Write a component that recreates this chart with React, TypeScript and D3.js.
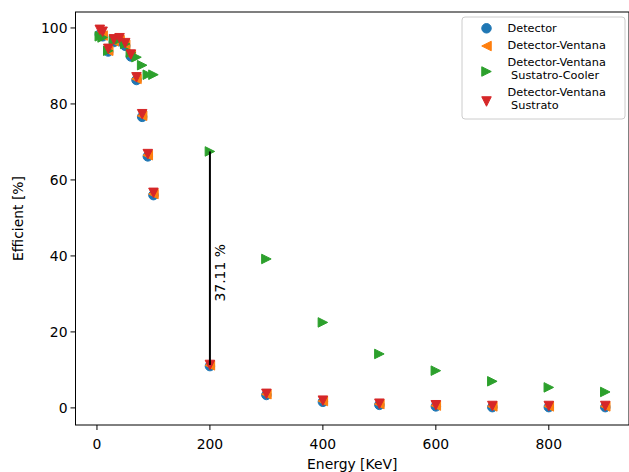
import React from "react";
import * as d3 from "d3";

const energies = [5, 10, 20, 30, 40, 50, 60, 70, 80, 90, 100, 200, 300, 400, 500, 600, 700, 800, 900];
const detector = [98.3, 97.8, 93.8, 96.3, 96.5, 95.3, 92.5, 86.3, 76.6, 66.2, 56.0, 11.0, 3.4, 1.6, 0.8, 0.4, 0.2, 0.2, 0.2];
const ventana = [98.6, 98.0, 94.0, 96.5, 96.8, 95.6, 92.8, 86.6, 76.9, 66.5, 56.3, 11.2, 3.6, 1.8, 1.0, 0.6, 0.4, 0.4, 0.4];
const cooler = [97.8, 97.5, 94.0, 96.8, 97.0, 95.8, 93.5, 92.3, 90.2, 87.7, 87.7, 67.5, 39.2, 22.5, 14.2, 9.8, 7.0, 5.4, 4.2];
const sustrato = [99.5, 99.0, 94.5, 97.0, 97.3, 96.0, 93.0, 87.0, 77.3, 66.8, 56.6, 11.3, 3.7, 1.9, 1.1, 0.7, 0.5, 0.5, 0.5];

const xTicks = [0, 200, 400, 600, 800];
const yTicks = [0, 20, 40, 60, 80, 100];

const seriesNames = ["Detector", "Detector-Ventana", "Detector-Ventana\n Sustatro-Cooler", "Detector-Ventana\n Sustrato"];
const seriesColors = ["#1f77b4", "#ff7f0e", "#2ca02c", "#d62728"];
const seriesMarkers = ["circle", "left", "right", "down"];
const annotationText = "37.11 %";
const annotationX = 200;

const W = 629;
const H = 472;
const left = 75.5;
const right = 629;
const top = 12;
const bottom = 425;

const font = "DejaVu Sans, sans-serif";

function Marker({ kind, x, y, color, s }: { kind: string; x: number; y: number; color: string; s: number }) {
  const h = s / 2;
  if (kind === "circle") {
    return <circle cx={x} cy={y} r={h} fill={color} stroke={color} strokeWidth={1} />;
  }
  let pts: number[][] = [];
  if (kind === "left") pts = [[-h, 0], [h, -h], [h, h]];
  if (kind === "right") pts = [[h, 0], [-h, -h], [-h, h]];
  if (kind === "down") pts = [[0, h], [-h, -h], [h, -h]];
  return (
    <polygon
      points={pts.map((p) => `${x + p[0]},${y + p[1]}`).join(" ")}
      fill={color}
      stroke={color}
      strokeWidth={1}
      strokeLinejoin="miter"
    />
  );
}

export default function App() {
  const x = d3.scaleLinear().domain([-38, 942]).range([left, right]);
  const y = d3.scaleLinear().domain([-4.5, 104.2]).range([bottom, top]);
  const all = [detector, ventana, cooler, sustrato];
  const ms = 9.5;

  const idx200 = energies.indexOf(annotationX);
  const yTop = cooler[idx200];
  const yBot = sustrato[idx200];

  const legX = 462;
  const legY = 17;
  const markerYs = [28.3, 46, 71.5, 101.5];
  const textStarts = [27.7, 44.6, 62.5, 92.2];
  const lineGap = 12.6;

  return (
    <svg width={W} height={H} style={{ position: "absolute", left: 0, top: 0, background: "#fff" }} fontFamily={font}>
      <rect x={0} y={0} width={W} height={H} fill="#fff" />
      {all.map((vals, si) => (
        <g key={si}>
          {vals.map((v, i) => (
            <Marker key={i} kind={seriesMarkers[si]} x={x(energies[i])} y={y(v)} color={seriesColors[si]} s={ms} />
          ))}
        </g>
      ))}
      <line x1={x(annotationX)} x2={x(annotationX)} y1={y(yTop)} y2={y(yBot)} stroke="#000" strokeWidth={2} />
      <text
        transform={`translate(${x(annotationX) + 15},${y(28)}) rotate(-90)`}
        fontSize={13.9}
        fill="#000"
      >
        {annotationText}
      </text>

      {/* axes */}
      <rect x={left} y={top} width={right - left} height={bottom - top} fill="none" stroke="#000" strokeWidth={1} />
      {xTicks.map((t) => (
        <g key={t}>
          <line x1={x(t)} x2={x(t)} y1={bottom} y2={bottom + 5} stroke="#000" />
          <text x={x(t)} y={bottom + 19.5} dy="0.35em" textAnchor="middle" fontSize={13.9} fill="#000">
            {t}
          </text>
        </g>
      ))}
      {yTicks.map((t) => (
        <g key={t}>
          <line x1={left - 5} x2={left} y1={y(t)} y2={y(t)} stroke="#000" />
          <text x={left - 8} y={y(t)} dy="0.35em" textAnchor="end" fontSize={13.9} fill="#000">
            {t}
          </text>
        </g>
      ))}
      <text x={(left + right) / 2} y={464} dy="0.35em" textAnchor="middle" fontSize={13.9} fill="#000">
        Energy [KeV]
      </text>
      <text transform={`translate(18,${(top + bottom) / 2}) rotate(-90)`} dy="0.35em" textAnchor="middle" fontSize={13.9} fill="#000">
        Efficient [%]
      </text>

      {/* legend */}
      <rect x={legX} y={legY} width={163} height={102} rx={3} fill="#fff" fillOpacity={0.8} stroke="#ccc" strokeWidth={1} />
      {seriesNames.map((name, i) => (
        <g key={i}>
          <Marker kind={seriesMarkers[i]} x={486.5} y={markerYs[i]} color={seriesColors[i]} s={ms} />
          {name.split("\n").map((ln, j) => (
            <text key={j} x={507.5} y={textStarts[i] + j * lineGap} dy="0.35em" fontSize={11.3} fill="#000" style={{ whiteSpace: "pre" }}>
              {ln}
            </text>
          ))}
        </g>
      ))}
    </svg>
  );
}
